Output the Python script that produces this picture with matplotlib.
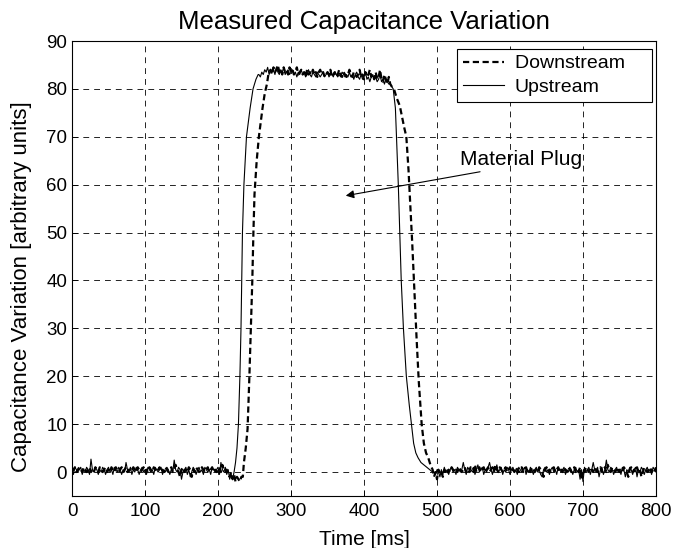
import numpy as np
import matplotlib

matplotlib.use("Agg")
import matplotlib.pyplot as plt

plt.rcParams["font.family"] = ["Liberation Sans", "DejaVu Sans"]

# ---- upstream (solid) ----
up_base1_t = np.arange(0, 224, 2)
up_base1_v = [
    0.5, -0.5, 1, 0.5, 0, 0.5, 1, -0.5, 0.5, 0,
    1, 0.5, -0.5, 2.7, 0.5, 0, 1, 0.5, -0.5, 0.5,
    0, 1, 0.5, -0.5, 0.5, 1, 0, 0.5, -0.5, 1,
    0.5, 0, 1, 0.5, -0.5, 0.5, 0, 2.0, 0.5, 0,
    1, -0.5, 0.5, 0, 1, 0.5, -0.5, 0.5, 1, 0,
    0.5, -0.5, 1, 0.5, 0, 0.5, -0.5, 1, 0.5, 0,
    0.5, 1, -0.5, 0.5, 0, 1, 0.5, -0.5, 0.5, 0,
    2.5, 0.5, 0, 1, 0.5, -1.5, 0, 0.5, 1, -0.5,
    0.5, -1, 0, 1, 0.5, -0.5, 0.5, 1, 0, 0.5,
    -0.5, 1, 0.5, 0, 0.5, -0.5, 1, 0.5, 0, 0.5,
    1, -0.5, 2.0, 0.5, 0, 1, -0.5, 0.5, -1.5, -0.5,
    -1.5, 0,
]
up_rise_t = [224, 226, 228, 230, 231.5, 232.5, 233.5, 235.5, 239, 244, 248, 252, 255]
up_rise_v = [2, 5, 10, 20, 30, 40, 50, 60, 70, 76, 80, 82, 83]
up_top_t = np.arange(256, 438, 2)
up_top_v = [
    83, 82.5, 83.5, 83, 84, 83.5, 84.5, 83, 84, 83.5,
    84, 83, 84.5, 83.5, 83, 84, 83.5, 84.5, 83, 83.5,
    84, 83, 83.5, 84, 83, 83.5, 82.5, 83.5, 83, 84,
    83, 83.5, 82.5, 83, 84, 83, 82.5, 83.5, 83, 82.5,
    83.5, 83, 82.5, 83, 83.5, 82.5, 83, 83.5, 82.5, 83,
    83, 82.5, 83.5, 83, 82.5, 83, 82.5, 83.5, 83, 82.5,
    83, 82.5, 83.5, 82.5, 83, 82, 83, 83.5, 82.5, 82,
    83, 82, 82.5, 83.5, 82, 82.5, 81.5, 82.5, 83, 82,
    82.5, 81.5, 82, 83, 81.5, 82, 81, 82, 81.5, 81,
    81,
]
up_fall_t = [438, 440, 443, 445, 447, 449, 451, 454, 458, 462, 465, 468, 471, 474, 478, 482, 486, 490, 494]
up_fall_v = [80.5, 80, 76, 68, 60, 50, 40, 30, 20, 14, 10, 6, 4, 3, 2, 1.5, 1, 0.5, 0]
up_base2_t = np.arange(496, 802, 2)
up_base2_v = [
    0, -0.5, 0.5, 0, -1, 0.5, -0.5, 1, 0, 0.5,
    -0.5, 0.5, 1, 0, 0.5, -0.5, 1, 0.5, 0, 0.5,
    2, 0.5, -0.5, 1, 0.5, 0, 0.5, 1, -0.5, 0.5,
    1.5, 0, 0.5, 1, -0.5, 0.5, 0, 1, 2, 0.5,
    -0.5, 1, 0.5, 1.5, 0, 0.5, 1, -0.5, 0.5, 0,
    1, 0.5, -0.5, 0.5, 1, 0, 0.5, -0.5, 1, 0.5,
    0, 0.5, 1, -0.5, 0.5, 0, 1, 0.5, -0.5, 0.5,
    1, 0, 0.5, -0.5, -1, 0.5, 1, 0, 0.5, -0.5,
    0.5, 1, 0, 0.5, -0.5, 1, 0.5, 0, 0.5, 1,
    -0.5, 0.5, 0, 1, 0.5, -0.5, 0.5, 1, 0, 0.5,
    -1.5, 0.5, -2, 1, 0, 0.5, 1, -0.5, 0.5, 2,
    0.5, 0, 1, -1, 0.5, 1, -0.5, 0.5, 2.5, 0.5,
    0, 1, 0.5, -0.5, 0.5, 1, 0, 0.5, -0.5, 1,
    0.5, -1, 0.5, 0, 1, 0.5, -0.5, 0.5, 1, -1,
    0.5, 0, 1, 0.5, -0.5, 0.5, 1, 0, 0.5, -0.5,
    1, 0.5, 0,
]

# ---- downstream (dashed) ----
dn_base1_t = np.arange(0, 234, 2)
dn_base1_v = [
    0, 0.5, 1, 0, 0.5, 1, 0.5, 0, 1, 0.5,
    0, 0.5, 1, 0, 0.5, 0, 1, 0.5, 0, 1,
    0.5, 0, 0.5, 1, 0, 0.5, 0, 1, 0.5, 0,
    1, 0.5, 0, 0.5, 1, 0, 0.5, 1, 0, 0.5,
    0, 0.5, 1, 0.5, 0, 1, 0.5, 0, 0.5, 1,
    0, 0.5, 0, 1, 0.5, 0, 1, 0.5, 0, 0.5,
    1, 0, 0.5, 0, 1, 0.5, 0, 0.5, 1, 0,
    0.5, 1.5, 0.5, 0, -1, 0.5, 1, 0, 0.5, 0,
    1, 0.5, -1, 0.5, 0, 1, 0.5, 0, 0.5, 1,
    0.5, 0, 0.5, 1, 0, 0.5, 1, 0, 0.5, 0,
    0.5, 1, 0, 1.5, 0.5, 0, 0.5, -0.5, -1, 0,
    -1.5, -0.5, -2, -1, -1.5, -2, -1,
]
dn_rise_t = [234, 235.5, 238, 240.5, 243, 245, 247, 248.5, 250, 253, 256, 261, 264, 267, 269]
dn_rise_v = [-1, 2, 5, 9, 20, 30, 40, 50, 58, 65, 70, 76, 79, 81, 83]
dn_top_t = np.arange(270, 438, 2)
dn_top_v = [
    83.5, 84, 83, 84.5, 83.5, 84, 85, 83.5, 84, 83,
    84.5, 83.5, 84, 83, 84.5, 83.5, 84, 83, 83.5, 84.5,
    83, 83.5, 84, 83, 83.5, 82.5, 84, 83, 83.5, 83,
    84, 83, 83.5, 82.5, 83.5, 84, 83, 83.5, 82.5, 83,
    83.5, 83, 84, 82.5, 83, 83.5, 82.5, 83, 84, 83,
    82.5, 83.5, 83, 82.5, 83, 84, 83, 82.5, 83.5, 83,
    82.5, 83, 84, 82.5, 83, 82, 83.5, 82.5, 83, 84,
    82.5, 83, 82, 83.5, 82, 82.5, 84, 82, 81.5, 83,
    82, 81, 82.5, 81,
]
dn_fall_t = [438, 441, 445, 449, 455, 458, 461, 463, 466, 469, 472, 475, 479, 482, 485, 488, 491, 494]
dn_fall_v = [80.5, 80, 78, 76.5, 72, 70, 63, 57, 48, 38, 28, 19, 10, 6, 4, 3, 1.5, 0.5]
dn_base2_t = np.arange(496, 802, 2)
dn_base2_v = [
    -1, 0, -1.5, 0.5, -0.5, 0, -1, 0.5, 0, -0.5,
    0.5, 0, 1, 0.5, 0, 0.5, 0, 1, 0.5, 0,
    0.5, 1, 0, 0.5, 0, 1, 0.5, 0, 1.5, 0,
    0.5, 1, 0, 0.5, 1, 0, 0.5, 1, 0, 0.5,
    1, 0, 1.5, 0.5, 0, 1, 0.5, 0, 0.5, 1,
    0, 0.5, 1, 0, 0.5, 0, 1, 0.5, 0, 0.5,
    1, 0, 0.5, 1, 0, 0.5, 0, 1, 0.5, 0,
    0.5, 0, 1, 0.5, 0, -1, 0.5, 1, 0, 0.5,
    0, 0.5, 1, 0, 0.5, 1, 0, 0.5, 0, 1,
    0.5, 0, 1, 0.5, 0, 0.5, 1, 0, 0.5, 0,
    1, -1.5, 0.5, 0, 1, 0.5, 0, 1, 0.5, 0,
    1, 0.5, 0, 0.5, 1, 0, 0.5, 1, 0, 1.5,
    0.5, 0, 1, 0.5, 0, 0.5, 1, 0, 0.5, 0,
    1, 0.5, 0, -1, 0.5, 1, 0, 0.5, 0, 1,
    0, 0.5, -1, 0, 1, 0.5, 0, 0.5, 1, 0,
    0.5, 0, 1,
]

x_ticks = [0, 100, 200, 300, 400, 500, 600, 700, 800]
y_ticks = [0, 10, 20, 30, 40, 50, 60, 70, 80, 90]

up_t = np.concatenate([up_base1_t, up_rise_t, up_top_t, up_fall_t, up_base2_t])
up_v = np.concatenate([up_base1_v, up_rise_v, up_top_v, up_fall_v, up_base2_v])
dn_t = np.concatenate([dn_base1_t, dn_rise_t, dn_top_t, dn_fall_t, dn_base2_t])
dn_v = np.concatenate([dn_base1_v, dn_rise_v, dn_top_v, dn_fall_v, dn_base2_v])

fig = plt.figure(figsize=(6.86, 5.48), dpi=100)
ax = fig.add_axes([72 / 686, 52 / 548, 584 / 686, 455 / 548])

# trailing spaces give the wide right margin of the original legend box
ax.plot(dn_t, dn_v, color="black", linewidth=1.6, linestyle=(0, (2.8, 1.6)), label="Downstream    ")
ax.plot(up_t, up_v, color="black", linewidth=0.8, label="Upstream")

ax.set_xlim(0, 800)
ax.set_ylim(-5, 90)
ax.set_xticks(x_ticks)
ax.set_yticks(y_ticks)
ax.grid(True, color="black", linewidth=0.6, linestyle=(0, (7, 6)))
ax.tick_params(direction="in", length=4, labelsize=13.5, width=0.6)
ax.tick_params(axis="x", pad=5)
for spine in ax.spines.values():
    spine.set_linewidth(0.8)

ax.set_title("Measured Capacitance Variation", fontsize=18.5, pad=9)
ax.set_xlabel("Time [ms]", fontsize=15, labelpad=7)
ax.set_ylabel("Capacitance Variation [arbitrary units]", fontsize=16)
ax.yaxis.set_label_coords(-0.068, 0.46)

leg = ax.legend(
    loc="upper right",
    bbox_to_anchor=(1 - 4 / 584, 1 - 8 / 455),
    borderaxespad=0,
    fontsize=14,
    fancybox=False,
    framealpha=1,
    edgecolor="black",
    handlelength=2.1,
    handletextpad=0.55,
    labelspacing=0.3,
    borderpad=0.3,
)
leg.get_frame().set_linewidth(0.8)

ax.text(531, 64.2, "Material Plug", fontsize=15, ha="left", va="baseline")
ax.annotate(
    "",
    xy=(375, 57.7),
    xytext=(559, 62.7),
    arrowprops=dict(arrowstyle="-|>", color="black", lw=0.8, mutation_scale=12, shrinkA=0, shrinkB=0),
)

fig.savefig("out.png")
